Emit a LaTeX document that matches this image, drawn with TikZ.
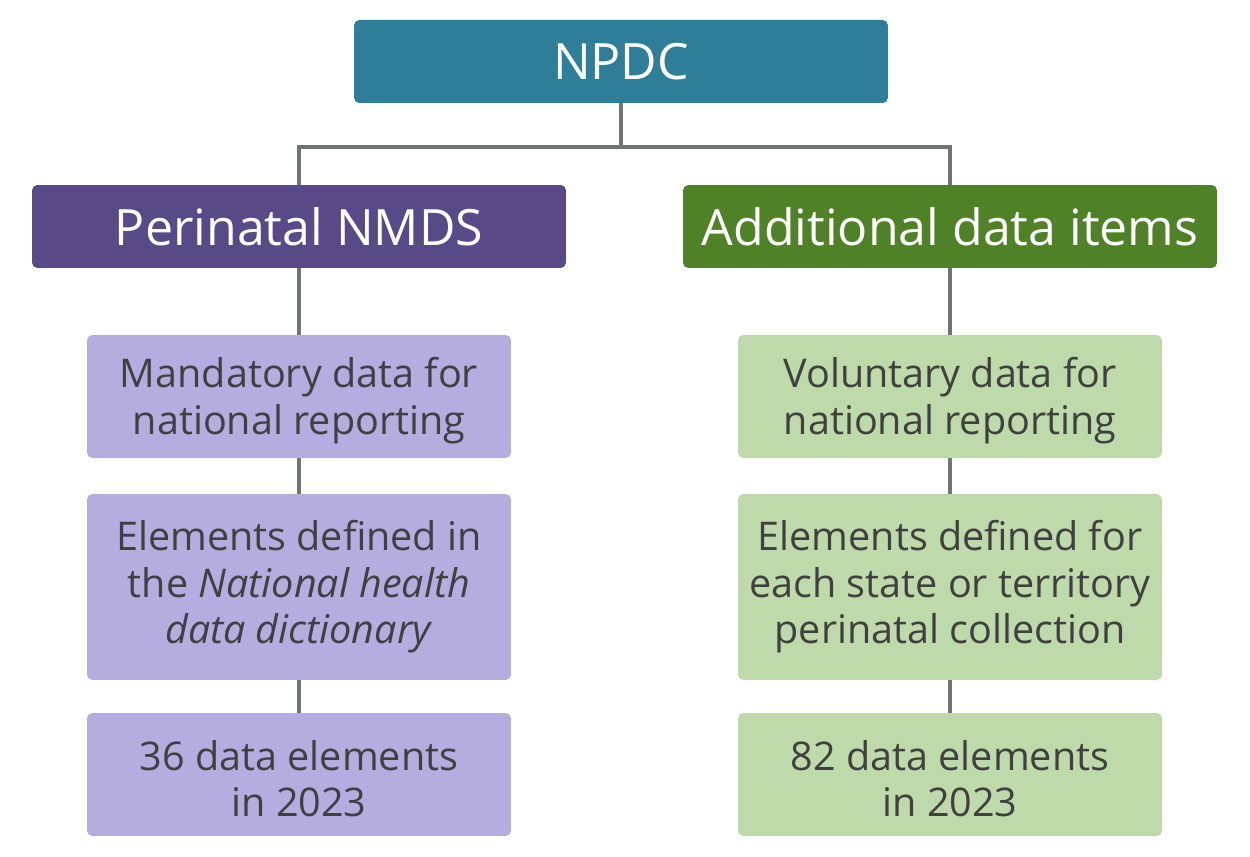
\documentclass[tikz,border=0pt]{standalone}
\usepackage{fontspec}
\usetikzlibrary{backgrounds}
\setmainfont{Open Sans}
\definecolor{teal}{HTML}{2E7E99}
\definecolor{purp}{HTML}{594987}
\definecolor{grn}{HTML}{4F8126}
\definecolor{lpurp}{HTML}{B5ADE0}
\definecolor{lgrn}{HTML}{BFDAAA}
\definecolor{conn}{HTML}{727474}
\definecolor{txt}{HTML}{404040}
\newcommand{\upstrut}{\rule{0pt}{22pt}}
\tikzset{
  head/.style={rounded corners=3pt, inner sep=0pt, minimum width=10.68cm, minimum height=1.66cm, text=white, font=\fontsize{28.5}{34}\selectfont},
  sub/.style={rounded corners=3pt, inner sep=0pt, minimum width=8.48cm, text=txt, align=center, font=\fontsize{22.5}{26.5}\selectfont},
  link/.style={draw=conn, line width=2.2pt}
}
\begin{document}
\begin{tikzpicture}[x=0.02cm, y=-0.02cm]
\useasboundingbox (0,0) rectangle (1250,857);
\node[head, fill=teal] (npdc) at (621,61.5) {NPDC};
\node[head, fill=purp] (nmds) at (299,226.5) {Perinatal NMDS};
\node[head, fill=grn] (add) at (950,226.5) {Additional data items};
\node[sub, fill=lpurp, minimum height=2.46cm] (l1) at (299,396.5) {\upstrut Mandatory data for\\national reporting};
\node[sub, fill=lpurp, minimum height=3.72cm] (l2) at (299,587) {Elements defined in\\the \textit{National health}\\\textit{data dictionary}};
\node[sub, fill=lpurp, minimum height=2.46cm] (l3) at (299,774.5) {\upstrut 36 data elements\\in 2023};
\node[sub, fill=lgrn, minimum height=2.46cm] (r1) at (950,396.5) {\upstrut Voluntary data for\\national reporting};
\node[sub, fill=lgrn, minimum height=3.72cm] (r2) at (950,587) {Elements defined for\\each state or territory\\perinatal collection};
\node[sub, fill=lgrn, minimum height=2.46cm] (r3) at (950,774.5) {\upstrut 82 data elements\\in 2023};
\coordinate (j) at (621,147);
\coordinate (jl) at (299,147);
\coordinate (jr) at (950,147);
\begin{scope}[on background layer]
\draw[link] (npdc.south) -- (j);
\draw[link] (nmds.north) -- (jl) -- (jr) -- (add.north);
\draw[link] (nmds.south) -- (l1.north);
\draw[link] (l1.south) -- (l2.north);
\draw[link] (l2.south) -- (l3.north);
\draw[link] (add.south) -- (r1.north);
\draw[link] (r1.south) -- (r2.north);
\draw[link] (r2.south) -- (r3.north);
\end{scope}
\end{tikzpicture}
\end{document}
